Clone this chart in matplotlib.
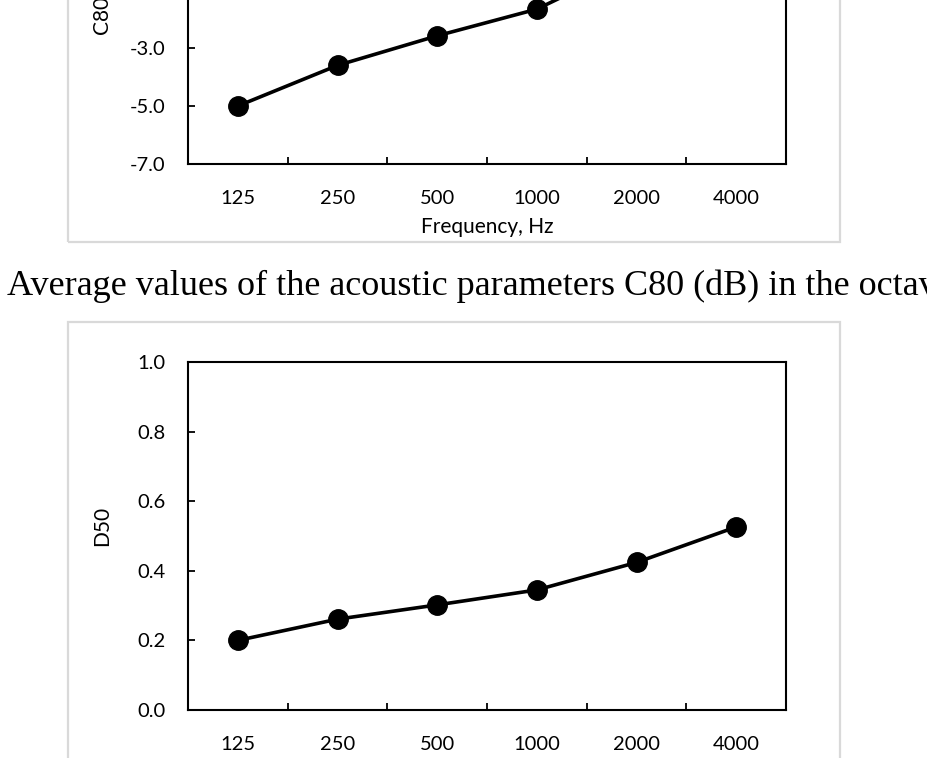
import matplotlib
matplotlib.use('Agg')
from matplotlib import pyplot as plt
from matplotlib.patches import Rectangle

freqs = ['125', '250', '500', '1000', '2000', '4000']
c80 = [-5.0, -3.6, -2.58, -1.66, 0.0, 1.2]
d50 = [0.20, 0.261, 0.302, 0.345, 0.424, 0.526]
c80_ticks = [-7, -5, -3, -1, 1, 3, 5]
d50_ticks = [0.0, 0.2, 0.4, 0.6, 0.8, 1.0]
caption = 'Average values of the acoustic parameters C80 (dB) in the octave bands'

W, H = 927, 758
fig = plt.figure(figsize=(W / 100, H / 100), dpi=100)
fig.patch.set_facecolor('white')

tick_font = 'Lato'

#pixel box -> figure fraction
def px_box(left, top, right, bottom):
    return [left / W, 1 - bottom / H, (right - left) / W, (bottom - top) / H]

def style_axes(ax, values, yticks, fmt):
    x = list(range(len(freqs)))
    ax.plot(x, values, color='black', lw=2.6, marker='o', markersize=14, zorder=3)
    ax.set_xlim(-0.5, len(freqs) - 0.5)
    ax.set_ylim(yticks[0], yticks[-1])
    ax.set_xticks(x)
    ax.set_xticklabels(freqs)
    ax.set_xticks([i + 0.5 for i in x[:-1]], minor=True)
    ax.tick_params(axis='x', which='major', length=0, pad=19, labelsize=14.5)
    ax.tick_params(axis='x', which='minor', direction='in', length=5, width=1.3)
    ax.set_yticks(yticks)
    ax.set_yticklabels([fmt % v for v in yticks])
    ax.tick_params(axis='y', direction='in', length=5, width=1.3, pad=16, labelsize=14.5)
    for lab in ax.get_xticklabels() + ax.get_yticklabels():
        lab.set_family(tick_font)
    for s in ax.spines.values():
        s.set_linewidth(1.5)

# top chart, cut off by the top edge
ax1 = fig.add_axes(px_box(188, -184, 786, 164))
style_axes(ax1, c80, c80_ticks, '%.1f')
ax1.text(-0.143, 0.371, 'C80 (dB)', transform=ax1.transAxes, rotation=90,
         ha='center', va='bottom', fontsize=15, family=tick_font)
ax1.text(0.5, -0.181, 'Frequency, Hz', transform=ax1.transAxes,
         ha='center', va='center', fontsize=15, family=tick_font)

# bottom chart, cut off by the bottom edge
ax2 = fig.add_axes(px_box(188, 362, 786, 710))
style_axes(ax2, d50, d50_ticks, '%.1f')
ax2.text(-0.143, 0.529, 'D50', transform=ax2.transAxes, rotation=90,
         ha='center', va='center', fontsize=15, family=tick_font)

# light grey chart frames
for left, top, right, bottom in [(68, -400, 840, 242), (68, 322, 840, 1100)]:
    fig.patches.append(Rectangle((left / W, 1 - bottom / H), (right - left) / W,
                                 (bottom - top) / H, transform=fig.transFigure,
                                 fill=False, edgecolor='#d9d9d9', lw=1.6))

fig.text(7 / W, 1 - 295 / H, caption, family='Liberation Serif', fontsize=26,
         va='baseline', ha='left')

fig.savefig('out.png', dpi=100)
